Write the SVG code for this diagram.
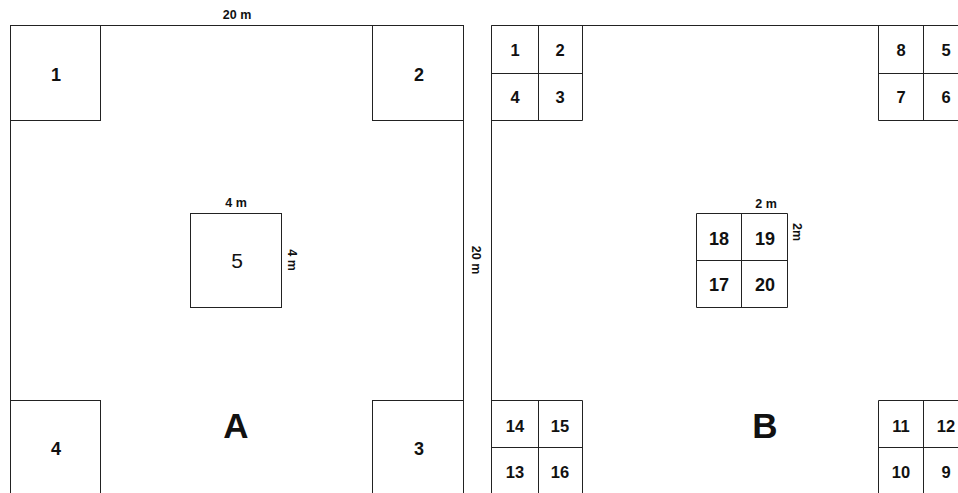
<svg xmlns="http://www.w3.org/2000/svg" width="958" height="493" viewBox="0 0 958 493">
<style>
.ln{fill:none;stroke:#222;stroke-width:1}
.n{font-family:"Liberation Sans",Arial,sans-serif;font-weight:bold;font-size:16.5px;fill:#111;text-anchor:middle}
.m{font-family:"Liberation Sans",Arial,sans-serif;font-weight:bold;font-size:18px;fill:#111;text-anchor:middle}
.d{font-family:"Liberation Sans",Arial,sans-serif;font-weight:bold;font-size:12.5px;fill:#111;text-anchor:middle}
.big{font-family:"Liberation Sans",Arial,sans-serif;font-weight:bold;font-size:35px;fill:#111;text-anchor:middle}
</style>
<rect width="958" height="493" fill="#fff"/>
<g id="panelA">
  <path class="ln" d="M10.5 500 V25.5 H463.5 V500"/>
  <g id="a1"><rect class="ln" x="10.5" y="25.5" width="90" height="95"/><text class="m" x="56" y="81">1</text></g>
  <g id="a2"><rect class="ln" x="372.5" y="25.5" width="91" height="95"/><text class="m" x="419" y="81">2</text></g>
  <g id="a4"><rect class="ln" x="10.5" y="400.5" width="90" height="100"/><text class="m" x="56" y="455">4</text></g>
  <g id="a3"><rect class="ln" x="372.5" y="400.5" width="91" height="100"/><text class="m" x="419" y="455">3</text></g>
  <g id="a5"><rect class="ln" x="190.5" y="213.5" width="91" height="94"/><text x="237" y="268" font-family="'Liberation Sans',Arial,sans-serif" font-size="21" fill="#111" text-anchor="middle">5</text></g>
  <text class="d" x="237" y="19">20 m</text>
  <text class="d" x="236" y="207">4 m</text>
  <text class="d" transform="translate(288,260) rotate(90)">4 m</text>
  <text class="d" transform="translate(472,260) rotate(90)">20 m</text>
  <text class="big" x="236" y="438">A</text>
</g>
<g id="panelB">
  <path class="ln" d="M491.5 500 V25.5 H958"/>
  <g id="b-tl">
    <path class="ln" d="M491.5 25.5 H582.5 V120.5 H491.5 M538.5 25.5 V120.5 M491.5 73.5 H582.5"/>
    <text class="n" x="515" y="56">1</text><text class="n" x="560" y="56">2</text>
    <text class="n" x="515" y="103">4</text><text class="n" x="560" y="103">3</text>
  </g>
  <g id="b-tr">
    <path class="ln" d="M878.5 25.5 V120.5 H960 M923.5 25.5 V120.5 M878.5 73.5 H960"/>
    <text class="n" x="901" y="56">8</text><text class="n" x="946" y="56">5</text>
    <text class="n" x="901" y="103">7</text><text class="n" x="946" y="103">6</text>
  </g>
  <g id="b-bl">
    <path class="ln" d="M491.5 400.5 H582.5 V500 M538.5 400.5 V500 M491.5 447.5 H582.5"/>
    <text class="n" x="515" y="432">14</text><text class="n" x="560" y="432">15</text>
    <text class="n" x="515" y="478">13</text><text class="n" x="560" y="478">16</text>
  </g>
  <g id="b-br">
    <path class="ln" d="M878.5 500 V400.5 H960 M923.5 400.5 V500 M878.5 447.5 H960"/>
    <text class="n" x="901" y="432">11</text><text class="n" x="946" y="432">12</text>
    <text class="n" x="901" y="478">10</text><text class="n" x="946" y="478">9</text>
  </g>
  <g id="b-center">
    <path class="ln" d="M696.5 213.5 H787.5 V307.5 H696.5 Z M741.5 213.5 V307.5 M696.5 260.5 H787.5"/>
    <text class="m" x="719" y="245">18</text><text class="m" x="765" y="245">19</text>
    <text class="m" x="719" y="291">17</text><text class="m" x="765" y="291">20</text>
  </g>
  <text class="d" x="766" y="208">2 m</text>
  <text class="d" transform="translate(793,232) rotate(90)">2m</text>
  <text class="big" x="765" y="438">B</text>
</g>
</svg>
